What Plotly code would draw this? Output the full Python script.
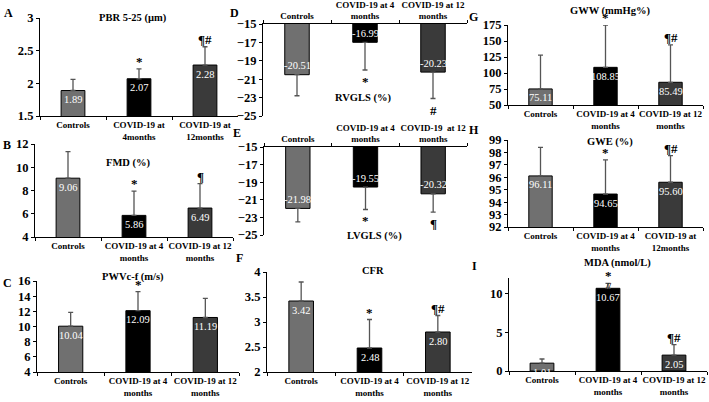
import plotly.graph_objects as go

W, H = 709, 402

# ---- data ----
colors = ["#707070", "#000000", "#3a3a3a"]

cats_a = ["Controls", "COVID-19 at<br>4months", "COVID-19 at<br>12months"]
cats_std = ["Controls", "COVID-19 at 4<br>months", "COVID-19 at 12<br>months"]
cats_e = ["Controls", "COVID-19 at 4<br>months", "COVID-19  at 12<br>months"]
cats_h = ["Controls", "COVID-19 at 4<br>months", "COVID-19 at<br>12months"]

pbr_vals = [1.89, 2.07, 2.28]
pbr_err = [2.06, 2.22, 2.56]
pbr_sig = ["", "*", "¶#"]

fmd_vals = [9.06, 5.86, 6.49]
fmd_err = [11.35, 7.95, 8.6]
fmd_sig = ["", "*", "¶"]

pwv_vals = [10.04, 12.09, 11.19]
pwv_err = [11.85, 14.6, 13.7]
pwv_sig = ["", "*", ""]

rvgls_vals = [-20.51, -16.99, -20.23]
rvgls_err = [-22.8, -20.0, -23.1]
rvgls_sig = ["", "*", "#"]

lvgls_vals = [-21.98, -19.55, -20.32]
lvgls_err = [-23.5, -22.1, -22.4]
lvgls_sig = ["", "*", "¶"]

cfr_vals = [3.42, 2.48, 2.80]
cfr_err = [3.8, 3.05, 3.13]
cfr_sig = ["", "*", "¶#"]

gww_vals = [75.11, 108.85, 85.49]
gww_err = [128, 175, 144]
gww_sig = ["", "*", "¶#"]

gwe_vals = [96.11, 94.65, 95.60]
gwe_err = [98.4, 97.4, 97.75]
gwe_sig = ["", "*", "¶#"]

mda_vals = [1.01, 10.67, 2.05]
mda_err = [1.55, 11.3, 3.4]
mda_sig = ["", "*", "¶#"]

# panel letter, title, cats, values, error ends, signs, y range, ticks,
# pixel box (x0, x1, ytop, ybottom), letter pos, title pos
panels = [
    ("A", "PBR 5-25 (µm)", cats_a, pbr_vals, pbr_err, pbr_sig, [1.5, 3], 0.5,
     (40, 238, 18, 116), (8, 13), (133, 18)),
    ("B", "FMD (%)", cats_std, fmd_vals, fmd_err, fmd_sig, [4, 12], 2,
     (35, 233, 144, 237), (7, 145), (128, 163)),
    ("C", "PWVc-f (m/s)", cats_std, pwv_vals, pwv_err, pwv_sig, [4, 16], 2,
     (37, 239, 281, 372), (7, 283), (133, 277)),
    ("D", "RVGLS (%)", cats_std, rvgls_vals, rvgls_err, rvgls_sig, [-25, -15], 2,
     (263, 467, 24, 116), (234, 13), (363, 98)),
    ("E", "LVGLS (%)", cats_e, lvgls_vals, lvgls_err, lvgls_sig, [-25, -15], 2,
     (264, 467, 147, 235), (237, 133), (375, 236)),
    ("F", "CFR", cats_std, cfr_vals, cfr_err, cfr_sig, [2, 4], 0.5,
     (267, 472, 272, 372), (240, 258), (373, 270)),
    ("G", "GWW (mmHg%)", cats_std, gww_vals, gww_err, gww_sig, [50, 175], 25,
     (508, 703, 25, 105), (473, 17), (610, 11)),
    ("H", "GWE (%)", cats_h, gwe_vals, gwe_err, gwe_sig, [92, 99], 1,
     (508, 703, 140, 227), (474, 130), (610, 142)),
    ("I", "MDA (nmol/L)", cats_std, mda_vals, mda_err, mda_sig, [0, 12], 5,
     (509, 707, 278, 371), (474, 266), (617, 263)),
]

serif = "Liberation Serif, DejaVu Serif, serif"
fig = go.Figure()
annotations = []
layout = {}

for i, (letter, title, cats, vals, err, sig, yr, dt, box, lpos, tpos) in enumerate(panels):
    n = i + 1
    xs = "x" if n == 1 else f"x{n}"
    ys = "y" if n == 1 else f"y{n}"
    neg = vals[0] < 0
    up = [max(e - v, 0) for v, e in zip(vals, err)]
    down = [max(v - e, 0) for v, e in zip(vals, err)]
    fig.add_trace(go.Bar(
        x=cats, y=vals, xaxis=xs, yaxis=ys,
        marker=dict(color=colors, line=dict(color="black", width=1)),
        width=0.36,
        error_y=dict(type="data", symmetric=False, array=up, arrayminus=down,
                     color="#555555", thickness=1.3, width=2.5),
        showlegend=False, hoverinfo="skip",
    ))
    x0, x1, yt, yb = box
    layout["xaxis" if n == 1 else f"xaxis{n}"] = dict(
        domain=[x0 / W, x1 / W], anchor=ys, type="category", automargin=False,
        showline=True, linecolor="black", linewidth=1.2,
        ticks="outside", tickson="boundaries", ticklen=3, tickcolor="black",
        side="top" if neg else "bottom", tickangle=0,
        tickfont=dict(family=serif, size=9, color="black", weight="bold"),
        showgrid=False, fixedrange=True,
    )
    layout["yaxis" if n == 1 else f"yaxis{n}"] = dict(
        domain=[1 - yb / H, 1 - yt / H], anchor=xs, range=yr, dtick=dt,
        tick0=yr[1] if neg else yr[0], automargin=False,
        showline=True, linecolor="black", linewidth=1.2,
        ticks="outside", ticklen=3, tickcolor="black",
        tickfont=dict(family=serif, size=12.5, color="black", weight="bold"),
        showgrid=False, zeroline=False, fixedrange=True,
    )
    # value labels inside bars
    for c, v in zip(cats, vals):
        annotations.append(dict(
            x=c, y=v, xref=xs, yref=ys, text=f"{v:.2f}", showarrow=False,
            yshift=9 if neg else -9,
            font=dict(family=serif, size=10.5, color="white"),
        ))
    # significance marks
    for c, e, s in zip(cats, err, sig):
        if not s:
            continue
        annotations.append(dict(
            x=c, y=e, xref=xs, yref=ys, text=s, showarrow=False,
            yanchor="top" if neg else "bottom", yshift=-2,
            font=dict(family=serif, size=13, color="black", weight="bold"),
        ))
    annotations.append(dict(
        x=lpos[0] / W, y=1 - lpos[1] / H, xref="paper", yref="paper",
        text=letter, showarrow=False, xanchor="center", yanchor="middle",
        font=dict(family=serif, size=12, color="black", weight="bold"),
    ))
    annotations.append(dict(
        x=tpos[0] / W, y=1 - tpos[1] / H, xref="paper", yref="paper",
        text=title, showarrow=False, xanchor="center", yanchor="middle",
        font=dict(family=serif, size=10.5, color="black", weight="bold"),
    ))

# axis break mark on the MDA 4-month error bar
annotations.append(dict(
    x=cats_std[1], y=11.0, xref="x9", yref="y9", text="//", showarrow=False,
    font=dict(family=serif, size=9, color="black", weight="bold"),
))

fig.update_layout(
    width=W, height=H, margin=dict(l=0, r=0, t=0, b=0),
    paper_bgcolor="white", plot_bgcolor="white",
    annotations=annotations, bargap=0.6, **layout,
)

fig.write_html("out.html", config={"displayModeBar": False},
               post_script="document.body.style.margin='0';")
